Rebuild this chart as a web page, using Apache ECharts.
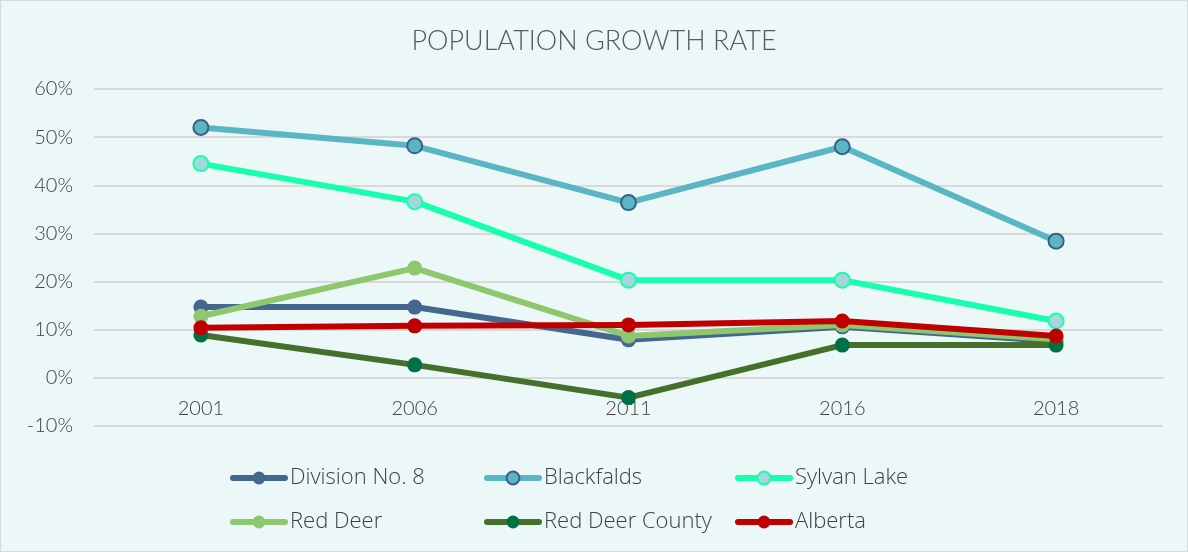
<!DOCTYPE html>
<html>
<head>
<meta charset="utf-8">
<script src="https://cdn.jsdelivr.net/npm/echarts@6/dist/echarts.min.js"></script>
<style>
  html, body { margin: 0; padding: 0; background: #ffffff; }
  #chart { width: 1186px; height: 550px; border: 1px solid #d9d9d9; background: #ecf7f7; }
</style>
</head>
<body>
<div id="chart"></div>
<script>
// data
var years = ['2001', '2006', '2011', '2016', '2018'];
var division8 = [14.7, 14.7, 7.9, 10.6, 7.6];
var blackfalds = [52.0, 48.2, 36.4, 48.0, 28.4];
var sylvanLake = [44.5, 36.6, 20.3, 20.3, 11.8];
var redDeer = [12.8, 22.8, 8.7, 11.0, 8.0];
var redDeerCounty = [8.9, 2.7, -4.1, 6.8, 6.8];
var alberta = [10.4, 10.8, 11.0, 11.8, 8.7];

var myChart = echarts.init(document.getElementById('chart'));

function mkSeries(name, data, lineColor, fill, border, z) {
    return {
        name: name,
        type: 'line',
        data: data,
        z: z,
        symbol: 'circle',
        symbolSize: 15,
        lineStyle: { width: 6, color: lineColor, cap: 'round', join: 'round' },
        itemStyle: { color: fill, borderColor: border, borderWidth: border ? 2 : 0 },
        emphasis: { disabled: true }
    };
}

var legendText = { fontSize: 22, color: '#404040', fontFamily: 'Open Sans', fontWeight: 300 };
function mkLegend(left, names) {
    return {
        orient: 'vertical',
        left: left,
        top: 461,
        itemWidth: 52,
        itemHeight: 16,
        itemGap: 22,
        lineStyle: { width: 6, cap: 'round' },
        textStyle: legendText,
        data: names
    };
}

var option = {
    backgroundColor: '#ecf7f7',
    animation: false,
    title: {
        text: 'POPULATION GROWTH RATE',
        left: 'center',
        top: 22,
        textStyle: { fontSize: 27, fontWeight: 300, color: '#595959', fontFamily: 'Lato' }
    },
    legend: [
        mkLegend(224, ['Division No. 8', 'Red Deer']),
        mkLegend(478, ['Blackfalds', 'Red Deer County']),
        mkLegend(729, ['Sylvan Lake', 'Alberta'])
    ],
    grid: { left: 93, right: 24, top: 88, bottom: 125 },
    xAxis: {
        type: 'category',
        data: years,
        axisLine: { show: true, onZero: true, lineStyle: { color: '#d9d9d9', width: 2 } },
        axisTick: { show: false },
        axisLabel: { fontSize: 20, color: '#404040', fontFamily: 'Lato', fontWeight: 300, margin: -27 }
    },
    yAxis: {
        type: 'value',
        min: -10,
        max: 60,
        interval: 10,
        axisLine: { show: false },
        axisTick: { show: false },
        axisLabel: { fontSize: 20, color: '#404040', fontFamily: 'Lato', fontWeight: 300, margin: 21, formatter: '{value}%' },
        splitLine: { lineStyle: { color: '#d9d9d9', width: 2 } }
    },
    series: [
        mkSeries('Division No. 8', division8, '#44678f', '#44678f', null, 2),
        mkSeries('Blackfalds', blackfalds, '#5bb6c4', '#5bb6c4', '#3b5f8a', 3),
        mkSeries('Sylvan Lake', sylvanLake, '#17ffad', '#a5d6dd', '#17ffad', 4),
        mkSeries('Red Deer', redDeer, '#8fc76f', '#8fc76f', null, 5),
        mkSeries('Red Deer County', redDeerCounty, '#44702c', '#007046', null, 6),
        mkSeries('Alberta', alberta, '#c00000', '#c00000', null, 7)
    ]
};

myChart.setOption(option);
</script>
</body>
</html>
